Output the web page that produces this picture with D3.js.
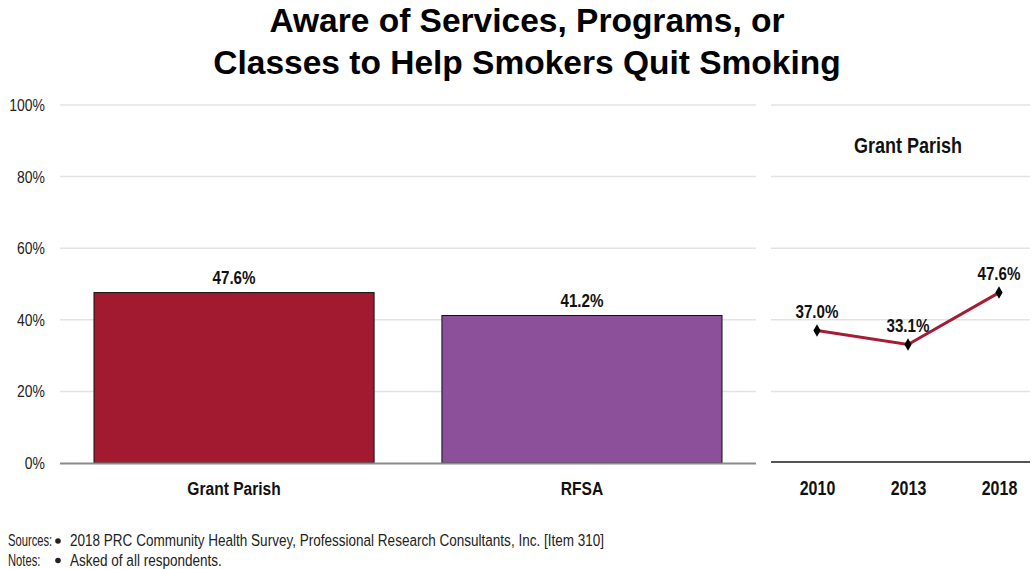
<!DOCTYPE html>
<html>
<head>
<meta charset="utf-8">
<script src="https://cdn.jsdelivr.net/npm/d3@7/dist/d3.min.js"></script>
<style>
  body { margin: 0; background: #fff; }
  svg { display: block; }
  text { font-family: "Liberation Sans", Arial, sans-serif; }
</style>
</head>
<body>
<svg id="chart" width="1034" height="569"></svg>
<script>
// Bar panel: current survey results by area
const barCategories = ["Grant Parish", "RFSA"];
const barValues = [47.6, 41.2];
const barColors = ["#A11A30", "#8C4F99"];

// Trend panel: Grant Parish over survey years
const trendTitle = "Grant Parish";
const trendYears = ["2010", "2013", "2018"];
const trendValues = [37.0, 33.1, 47.6];

// Shared percent axis
const yTicks = [0, 20, 40, 60, 80, 100];

const titleLines = ["Aware of Services, Programs, or", "Classes to Help Smokers Quit Smoking"];
const footnotes = [
  ["Sources:", "2018 PRC Community Health Survey, Professional Research Consultants, Inc. [Item 310]"],
  ["Notes:", "Asked of all respondents."]
];

// Condensed look: horizontally squeeze glyphs around their anchor point
const NARROW = 0.82;
function narrowAt(sel, x, y, k = NARROW) {
  sel.attr("x", 0).attr("y", 0)
     .attr("transform", (d, i) => {
       const xx = typeof x === "function" ? x(d, i) : x;
       const yy = typeof y === "function" ? y(d, i) : y;
       return `translate(${xx},${yy}) scale(${k},1)`;
     });
  return sel;
}

const svg = d3.select("#chart");

// Title
svg.selectAll("text.title").data(titleLines).join("text")
  .attr("class", "title")
  .attr("x", 527)
  .attr("y", (d, i) => 32 + i * 42)
  .attr("text-anchor", "middle")
  .attr("font-size", 33.5)
  .attr("font-weight", "bold")
  .attr("fill", "#000")
  .text(d => d);

const y = d3.scaleLinear().domain([0, 100]).range([463, 105]);

// ---- Bar panel ----
const barLeft = 60, barRight = 756;
const x = d3.scaleBand().domain(barCategories).range([barLeft, barRight])
  .paddingInner(0.195).paddingOuter(0.0977);

const gBar = svg.append("g");

gBar.selectAll("line.grid").data(yTicks.filter(t => t > 0)).join("line")
  .attr("x1", barLeft).attr("x2", barRight)
  .attr("y1", d => y(d)).attr("y2", d => y(d))
  .attr("stroke", "#e3e3e3").attr("stroke-width", 1.5);

// Y axis labels
const yAxis = d3.axisLeft(y).tickValues(yTicks).tickFormat(d => d + "%").tickSize(0).tickPadding(0);
const gy = svg.append("g").attr("transform", "translate(45,0)").call(yAxis);
gy.select(".domain").remove();
gy.selectAll("text")
  .attr("font-size", 17).attr("fill", "#222")
  .attr("font-family", "'Liberation Sans', Arial, sans-serif")
  .attr("transform", `scale(${NARROW},1)`);

// Bars
gBar.selectAll("rect.bar").data(barCategories).join("rect")
  .attr("x", d => x(d))
  .attr("width", x.bandwidth())
  .attr("y", (d, i) => y(barValues[i]))
  .attr("height", (d, i) => y(0) - y(barValues[i]))
  .attr("fill", (d, i) => barColors[i])
  .attr("stroke", "#111").attr("stroke-width", 1);

// Baseline
gBar.append("line")
  .attr("x1", barLeft).attr("x2", barRight)
  .attr("y1", y(0) + 0.5).attr("y2", y(0) + 0.5)
  .attr("stroke", "#8a8a8a").attr("stroke-width", 2);

// Bar value labels
narrowAt(
  gBar.selectAll("text.val").data(barCategories).join("text")
    .attr("text-anchor", "middle")
    .attr("font-size", 18.5).attr("font-weight", "bold").attr("fill", "#111")
    .text((d, i) => barValues[i].toFixed(1) + "%"),
  d => x(d) + x.bandwidth() / 2,
  (d, i) => y(barValues[i]) - 9
);

// Category labels
const xAxis = d3.axisBottom(x).tickSize(0).tickPadding(0);
const gx = svg.append("g").attr("transform", `translate(0,${y(0) + 32})`).call(xAxis);
gx.select(".domain").remove();
gx.selectAll("text").attr("font-size", 19).attr("font-weight", "bold").attr("fill", "#111")
  .attr("dy", 0)
  .attr("font-family", "'Liberation Sans', Arial, sans-serif")
  .attr("transform", `scale(${NARROW},1)`);

// ---- Trend panel ----
const trLeft = 771, trRight = 1030;
const xt = d3.scalePoint().domain(trendYears).range([817, 999]);
const gTr = svg.append("g");

gTr.selectAll("line.grid").data(yTicks.filter(t => t > 0)).join("line")
  .attr("x1", trLeft).attr("x2", trRight)
  .attr("y1", d => y(d)).attr("y2", d => y(d))
  .attr("stroke", "#e3e3e3").attr("stroke-width", 1.5);

gTr.append("line")
  .attr("x1", trLeft).attr("x2", trRight)
  .attr("y1", y(0) - 1).attr("y2", y(0) - 1)
  .attr("stroke", "#555").attr("stroke-width", 2);

narrowAt(
  gTr.append("text")
    .attr("text-anchor", "middle")
    .attr("font-size", 22).attr("font-weight", "bold").attr("fill", "#111")
    .text(trendTitle),
  908, 153
);

const line = d3.line().x((d, i) => xt(trendYears[i])).y(d => y(d));
gTr.append("path")
  .datum(trendValues)
  .attr("d", line)
  .attr("fill", "none")
  .attr("stroke", "#A51C34").attr("stroke-width", 3);

gTr.selectAll("path.marker").data(trendValues).join("path")
  .attr("transform", (d, i) => `translate(${xt(trendYears[i])},${y(d)})`)
  .attr("d", d3.symbol().type(d3.symbolDiamond).size(45))
  .attr("fill", "#000");

narrowAt(
  gTr.selectAll("text.val").data(trendValues).join("text")
    .attr("text-anchor", "middle")
    .attr("font-size", 18.5).attr("font-weight", "bold").attr("fill", "#111")
    .text(d => d.toFixed(1) + "%"),
  (d, i) => xt(trendYears[i]),
  d => y(d) - 13
);

const xtAxis = d3.axisBottom(xt).tickSize(0).tickPadding(0);
const gxt = svg.append("g").attr("transform", `translate(0,${y(0) + 32})`).call(xtAxis);
gxt.select(".domain").remove();
gxt.selectAll("text").attr("font-size", 19.5).attr("font-weight", "bold").attr("fill", "#111")
  .attr("dy", 0)
  .attr("font-family", "'Liberation Sans', Arial, sans-serif")
  .attr("transform", `scale(${NARROW},1)`);

// ---- Footnotes ----
const gf = svg.append("g");
footnotes.forEach((f, i) => {
  const yy = 546 + i * 19.5;
  narrowAt(gf.append("text").attr("font-size", 16).attr("fill", "#222").text(f[0]), 8, yy, 0.7);
  gf.append("circle").attr("cx", 58).attr("cy", yy - 5).attr("r", 2.8).attr("fill", "#222");
  narrowAt(gf.append("text").attr("font-size", 16.5).attr("fill", "#222").text(f[1]), 70, yy);
});
</script>
</body>
</html>
